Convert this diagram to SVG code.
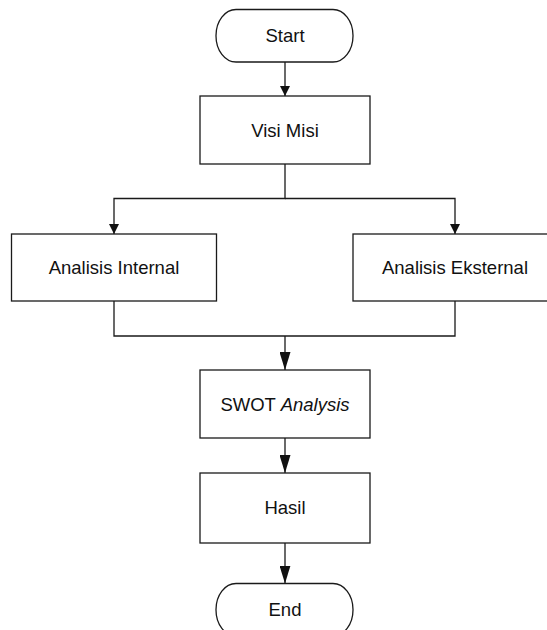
<svg xmlns="http://www.w3.org/2000/svg" width="547" height="630" viewBox="0 0 547 630">
<style>
.n{fill:#fff;stroke:#1a1a1a;stroke-width:1.3}
.t{font-family:"Liberation Sans",Arial,sans-serif;font-size:18.5px;fill:#111;text-anchor:middle}
.c{fill:none;stroke:#1a1a1a;stroke-width:1.3}
</style>
<defs>
<marker id="as" markerUnits="userSpaceOnUse" markerWidth="10" markerHeight="10" refX="10" refY="5" orient="auto"><path d="M0,0 L10,5 L0,10 z" fill="#111"/></marker>
<marker id="al" markerUnits="userSpaceOnUse" markerWidth="18" markerHeight="11" refX="18" refY="5.5" orient="auto"><path d="M0,0 L18,5.5 L0,11 z" fill="#111"/></marker>
</defs>
<rect width="547" height="630" fill="#fff"/>
<g id="connectors">
<path class="c" d="M285,62 V96" marker-end="url(#as)"/>
<path class="c" d="M285,164 V198.5 H114 V234" marker-end="url(#as)"/>
<path class="c" d="M285,198.5 H455 V234" marker-end="url(#as)"/>
<path class="c" d="M114,301 V336 H455 V301"/>
<path class="c" d="M285,336 V370" marker-end="url(#al)"/>
<path class="c" d="M285,438 V473" marker-end="url(#al)"/>
<path class="c" d="M285,543 V583.5" marker-end="url(#al)"/>
</g>
<g id="start"><rect class="n" x="216" y="9.5" width="137" height="52.5" rx="20" ry="26"/><text class="t" x="285" y="41.5">Start</text></g>
<g id="visimisi"><rect class="n" x="200" y="96" width="170" height="68"/><text class="t" x="285" y="136.5">Visi Misi</text></g>
<g id="internal"><rect class="n" x="11.5" y="234" width="205" height="67"/><text class="t" x="114" y="274">Analisis Internal</text></g>
<g id="eksternal"><rect class="n" x="353" y="234" width="205" height="67"/><text class="t" x="455" y="274">Analisis Eksternal</text></g>
<g id="swot"><rect class="n" x="200" y="370" width="170" height="68"/><text class="t" x="285" y="410.5">SWOT <tspan font-style="italic">Analysis</tspan></text></g>
<g id="hasil"><rect class="n" x="200" y="473" width="170" height="70"/><text class="t" x="285" y="514">Hasil</text></g>
<g id="end"><rect class="n" x="216" y="583.5" width="137" height="52.5" rx="20" ry="26"/><text class="t" x="285" y="615.5">End</text></g>
</svg>
